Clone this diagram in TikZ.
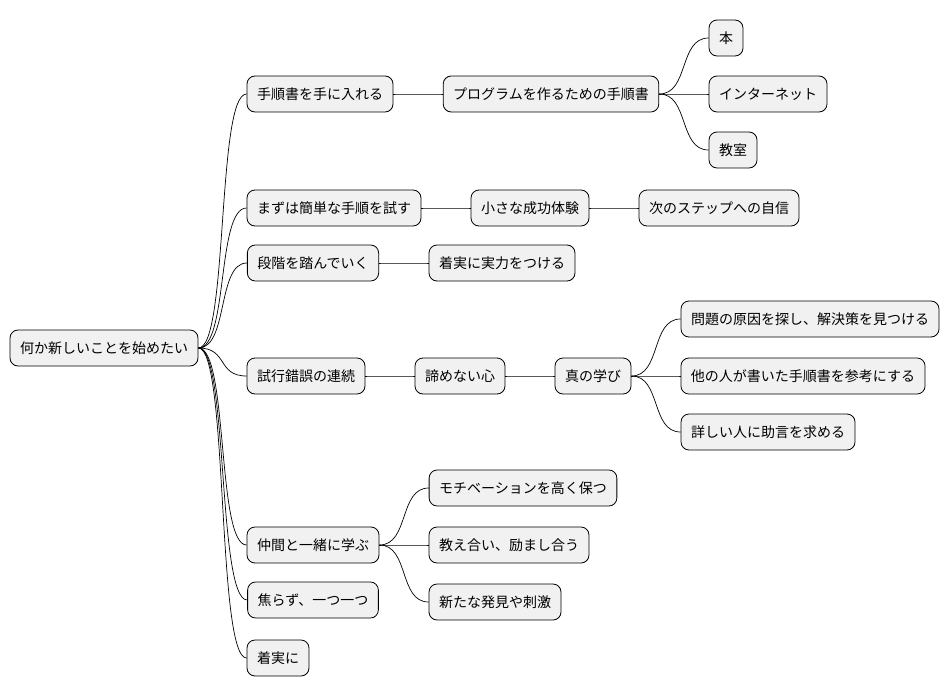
\documentclass[tikz,border=0pt]{standalone}
\usepackage{fontspec}
\setmainfont{Noto Sans CJK JP}
\begin{document}
\begin{tikzpicture}[x=1pt,y=-1pt,
  mm/.style={draw=black,fill=black!5.5,rounded corners=8pt,minimum height=36pt,inner xsep=10pt,font=\fontsize{14pt}{16pt}\selectfont,line width=0.8pt},
  lk/.style={draw=black,line width=0.7pt}]
\useasboundingbox (0,0) rectangle (950,696);
\node[mm] (r) at (104,348) {何か新しいことを始めたい};
\node[mm] (a) at (320,94) {手順書を手に入れる};
\node[mm] (a1) at (551,94) {プログラムを作るための手順書};
\node[mm] (a11) at (726,38) {本};
\node[mm] (a12) at (768,94) {インターネット};
\node[mm] (a13) at (733,150) {教室};
\node[mm] (b) at (334,208) {まずは簡単な手順を試す};
\node[mm] (b1) at (530,208) {小さな成功体験};
\node[mm] (b2) at (719,208) {次のステップへの自信};
\node[mm] (c) at (313,263) {段階を踏んでいく};
\node[mm] (c1) at (502,263) {着実に実力をつける};
\node[mm] (d) at (306,376) {試行錯誤の連続};
\node[mm] (d1) at (460,376) {諦めない心};
\node[mm] (d2) at (593,376) {真の学び};
\node[mm] (d21) at (810,319) {問題の原因を探し、解決策を見つける};
\node[mm] (d22) at (803,376) {他の人が書いた手順書を参考にする};
\node[mm] (d23) at (768,432) {詳しい人に助言を求める};
\node[mm] (e) at (313,545) {仲間と一緒に学ぶ};
\node[mm] (e1) at (523,488) {モチベーションを高く保つ};
\node[mm] (e2) at (509,545) {教え合い、励まし合う};
\node[mm] (e3) at (495,602) {新たな発見や刺激};
\node[mm] (f) at (313,600) {焦らず、一つ一つ};
\node[mm] (g) at (278,658) {着実に};
\foreach \p/\c in {r/a,r/b,r/c,r/d,r/e,r/f,r/g,a/a1,a1/a11,a1/a12,a1/a13,b/b1,b1/b2,c/c1,d/d1,d1/d2,d2/d21,d2/d22,d2/d23,e/e1,e/e2,e/e3}
  \draw[lk] (\p.east) .. controls ([xshift=30pt]\p.east) and ([xshift=-30pt]\c.west) .. (\c.west);
\end{tikzpicture}
\end{document}
